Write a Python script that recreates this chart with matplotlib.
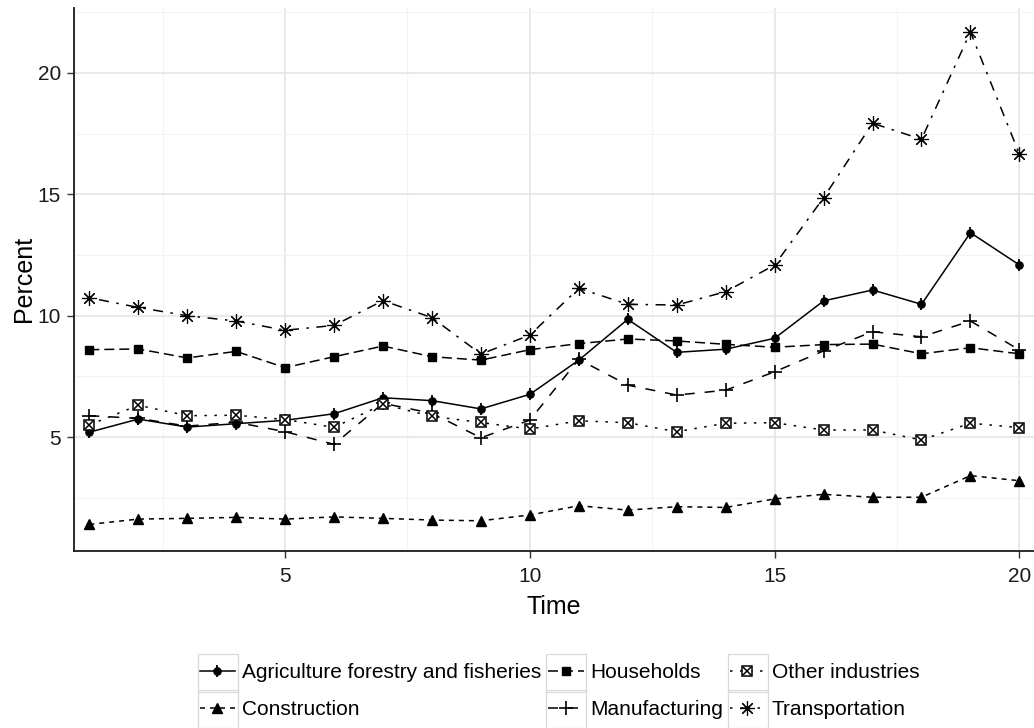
import matplotlib
matplotlib.use("Agg")
import matplotlib.pyplot as plt
from matplotlib.lines import Line2D
from matplotlib.patches import Rectangle
from matplotlib.ticker import FixedLocator

plt.rcParams['font.family'] = ['Liberation Sans', 'DejaVu Sans']
plt.rcParams['lines.scale_dashes'] = False

time = list(range(1, 21))
agriculture = [5.20, 5.74, 5.41, 5.55, 5.69, 5.96, 6.62, 6.50, 6.16, 6.76,
               8.17, 9.85, 8.49, 8.62, 9.07, 10.61, 11.06, 10.47, 13.42, 12.09]
construction = [1.40, 1.62, 1.65, 1.69, 1.62, 1.71, 1.65, 1.58, 1.55, 1.79,
                2.17, 1.99, 2.13, 2.10, 2.45, 2.64, 2.52, 2.52, 3.41, 3.20]
households = [8.60, 8.63, 8.26, 8.53, 7.86, 8.31, 8.75, 8.31, 8.17, 8.60,
              8.85, 9.04, 8.96, 8.82, 8.70, 8.81, 8.83, 8.43, 8.68, 8.43]
manufacturing = [5.88, 5.77, 5.45, 5.61, 5.22, 4.70, 6.39, 5.98, 4.97, 5.70,
                 8.20, 7.14, 6.73, 6.93, 7.69, 8.55, 9.34, 9.13, 9.78, 8.59]
other_industries = [5.50, 6.31, 5.88, 5.90, 5.72, 5.40, 6.35, 5.85, 5.60, 5.33,
                    5.67, 5.59, 5.22, 5.57, 5.59, 5.29, 5.29, 4.88, 5.57, 5.39]
transportation = [10.74, 10.34, 10.00, 9.78, 9.40, 9.60, 10.62, 9.92, 8.42, 9.20,
                  11.13, 10.47, 10.44, 10.99, 12.09, 14.86, 17.93, 17.27, 21.69, 16.66]

labels = ["Agriculture forestry and fisheries", "Construction", "Households",
          "Manufacturing", "Other industries", "Transportation"]
series = [agriculture, construction, households, manufacturing, other_industries, transportation]

W, H = 1034, 728
fig = plt.figure(figsize=(W / 100, H / 100), dpi=100)
ax_l, ax_r, ax_b, ax_t = 73.5, 1034, 550.7, 8
ax = fig.add_axes([ax_l / W, 1 - ax_b / H, (ax_r - ax_l) / W, (ax_b - ax_t) / H])

u = 1.8  # dash unit in points
lw = 1.1
styles = [
    dict(ls='-', marker='o', ms=5.2, mew=1.0),
    dict(ls=(0, (2 * u, 2 * u)), marker='^', ms=7, mew=1.0),
    dict(ls=(0, (4 * u, 2 * u)), marker='s', ms=6.2, mew=1.0),
    dict(ls=(0, (4 * u, 4 * u)), marker='+', ms=9.5, mew=1.2),
    dict(ls=(0, (1 * u, 3 * u)), marker='s', ms=6.8, mew=1.1),
    dict(ls=(0, (1 * u, 3 * u, 4 * u, 3 * u)), marker=(8, 2, 0), ms=10.5, mew=0.85),
]

handles = []
for lab, ys, st in zip(labels, series, styles):
    ax.plot(time, ys, color='black', lw=lw, ls=st['ls'], zorder=2)

for lab, ys, st in zip(labels, series, styles):
    if lab == "Other industries":
        ax.plot(time, ys, ls='none', marker='s', ms=st['ms'], mfc='white',
                mec='black', mew=st['mew'], zorder=3)
        ax.plot(time, ys, ls='none', marker='x', ms=st['ms'] * 0.75,
                mec='black', mew=st['mew'], zorder=4)
        h = (Line2D([], [], color='black', lw=lw, ls=st['ls']),
             Line2D([], [], ls='none', marker='s', ms=st['ms'], mfc='white', mec='black', mew=st['mew']),
             Line2D([], [], ls='none', marker='x', ms=st['ms'] * 0.75, mec='black', mew=st['mew']))
    elif lab.startswith("Agriculture"):
        ax.plot(time, ys, ls='none', marker='o', ms=st['ms'], mfc='black',
                mec='black', zorder=3)
        ax.plot(time, ys, ls='none', marker='|', ms=st['ms'] * 1.6,
                mec='black', mew=1.3, zorder=3)
        h = (Line2D([], [], color='black', lw=lw, ls=st['ls']),
             Line2D([], [], ls='none', marker='o', ms=st['ms'], mfc='black', mec='black'),
             Line2D([], [], ls='none', marker='|', ms=st['ms'] * 1.6, mec='black', mew=1.3))
    else:
        ax.plot(time, ys, ls='none', marker=st['marker'], ms=st['ms'],
                mfc='black', mec='black', mew=st['mew'], zorder=3)
        h = Line2D([], [], color='black', lw=lw, ls=st['ls'], marker=st['marker'],
                   ms=st['ms'], mfc='black', mec='black', mew=st['mew'])
    handles.append(h)

# axes limits: x=1 at 89.3px, 48.95px per unit; y=20 at 73px, 24.27px per unit
ax.set_xlim(1 - (89.3 - ax_l) / 48.95, 20 + (ax_r - 1019.4) / 48.95)
ax.set_ylim(20 - (ax_b - 73) / 24.27, 20 + (73 - ax_t) / 24.27)

ax.xaxis.set_major_locator(FixedLocator([5, 10, 15, 20]))
ax.yaxis.set_major_locator(FixedLocator([5, 10, 15, 20]))
ax.xaxis.set_minor_locator(FixedLocator([2.5, 7.5, 12.5, 17.5]))
ax.yaxis.set_minor_locator(FixedLocator([2.5, 7.5, 12.5, 17.5, 22.5]))
ax.grid(which='major', color='#e3e3e3', lw=1.1, zorder=0)
ax.grid(which='minor', color='#f3f3f3', lw=0.8, zorder=0)
ax.set_axisbelow(True)
ax.tick_params(which='minor', length=0)
ax.tick_params(axis='x', which='major', pad=7)
ax.tick_params(axis='y', which='major', pad=4)
ax.tick_params(which='major', length=5, width=1.0, color='#333333',
               labelsize=15, labelcolor='#1a1a1a')
for s in ['top', 'right']:
    ax.spines[s].set_visible(False)
for s in ['left', 'bottom']:
    ax.spines[s].set_linewidth(1.3)
    ax.spines[s].set_color('#1a1a1a')

ax.set_xlabel("Time", fontsize=18, labelpad=6)
ax.set_ylabel("Percent", fontsize=18, labelpad=1)

leg = fig.legend(handles, labels, ncol=3, loc='upper left',
                 bbox_to_anchor=(199.5 / W, 1 - 663 / H), frameon=False,
                 fontsize=15, handlelength=1.72, handletextpad=0.3,
                 columnspacing=0.33, labelspacing=0.86, borderpad=0,
                 borderaxespad=0)

fig.canvas.draw()
r = fig.canvas.get_renderer()
for t in leg.get_texts():
    bb = t.get_window_extent(r)
    cy = (bb.y0 + bb.y1) / 2
    right = bb.x0 - 4
    rect = Rectangle(((right - 40) / W, (cy - 19) / H), 40 / W, 38 / H,
                     transform=fig.transFigure, fill=False, edgecolor='#d9d9d9',
                     lw=0.9, zorder=0)
    fig.add_artist(rect)

fig.savefig("out.png", dpi=100)
